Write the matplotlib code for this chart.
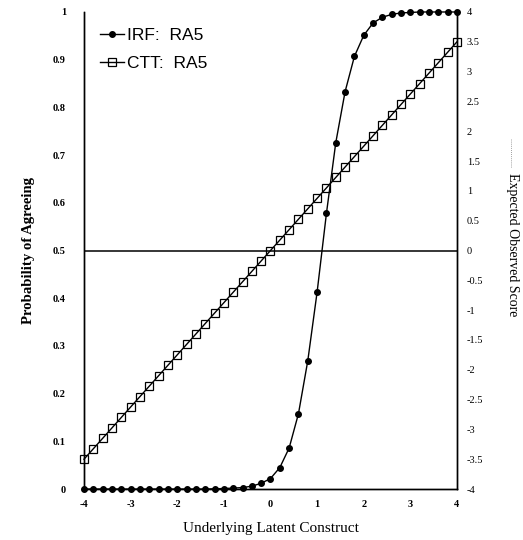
import matplotlib
matplotlib.use("Agg")
import matplotlib.pyplot as plt
from matplotlib.lines import Line2D

# latent construct values (step 0.2)
theta = [-4.0, -3.8, -3.6, -3.4, -3.2, -3.0, -2.8, -2.6, -2.4, -2.2,
         -2.0, -1.8, -1.6, -1.4, -1.2, -1.0, -0.8, -0.6, -0.4, -0.2,
         0.0, 0.2, 0.4, 0.6, 0.8, 1.0, 1.2, 1.4, 1.6, 1.8,
         2.0, 2.2, 2.4, 2.6, 2.8, 3.0, 3.2, 3.4, 3.6, 3.8, 4.0]

# IRF: probability of agreeing (left axis)
irf = [0.0, 0.0, 0.0, 0.0, 0.0, 0.0, 0.0, 0.0, 0.0, 0.0,
       0.0, 0.0, 0.0, 0.0, 0.0005, 0.001, 0.002, 0.003, 0.006, 0.012,
       0.022, 0.045, 0.086, 0.158, 0.269, 0.413, 0.578, 0.726, 0.833, 0.907,
       0.951, 0.977, 0.989, 0.995, 0.998, 0.999, 1.0, 1.0, 1.0, 1.0, 1.0]

# CTT: expected observed score (right axis)
ctt = [-3.5, -3.325, -3.15, -2.975, -2.8, -2.625, -2.45, -2.275, -2.1, -1.925,
       -1.75, -1.575, -1.4, -1.225, -1.05, -0.875, -0.7, -0.525, -0.35, -0.175,
       0.0, 0.175, 0.35, 0.525, 0.7, 0.875, 1.05, 1.225, 1.4, 1.575,
       1.75, 1.925, 2.1, 2.275, 2.45, 2.625, 2.8, 2.975, 3.15, 3.325, 3.5]

left_ticks = [0, 0.1, 0.2, 0.3, 0.4, 0.5, 0.6, 0.7, 0.8, 0.9, 1]
left_labels = ["0", "0.1", "0.2", "0.3", "0.4", "0.5", "0.6", "0.7", "0.8", "0.9", "1"]
right_ticks = [-4, -3.5, -3, -2.5, -2, -1.5, -1, -0.5, 0, 0.5, 1, 1.5, 2, 2.5, 3, 3.5, 4]
right_labels = ["-4", "-3.5", "-3", "-2.5", "-2", "-1.5", "-1", "-0.5", "0",
                "0.5", "1", "1.5", "2", "2.5", "3", "3.5", "4"]
x_ticks = [-4, -3, -2, -1, 0, 1, 2, 3, 4]

serif = "Liberation Serif"

fig = plt.figure(figsize=(5.23, 5.40), dpi=100)
ax = fig.add_axes([0.1606, 0.0944, 0.7132, 0.8834])
ax2 = ax.twinx()

ax.set_xlim(-4, 4)
ax.set_ylim(0, 1)
ax2.set_ylim(-4, 4)

# zero line of the observed score
ax2.axhline(0, color="black", lw=1.1)

l2, = ax2.plot(theta, ctt, color="black", lw=1.0, marker="s", ms=5.5,
               mfc="none", mec="black", mew=0.9, clip_on=False)
l1, = ax.plot(theta, irf, color="black", lw=1.0, marker="o", ms=4.0,
              clip_on=False, zorder=5)
ax.set_zorder(ax2.get_zorder() + 1)
ax.patch.set_visible(False)

for a in (ax, ax2):
    a.spines["top"].set_visible(False)
    for s in a.spines.values():
        s.set_linewidth(1.0)

ax.set_xticks(x_ticks)
ax.set_xticklabels([str(t) for t in x_ticks], fontfamily=serif,
                   fontweight="bold", fontsize=7.5)
ax.set_yticks(left_ticks)
ax.set_yticklabels(left_labels, fontfamily=serif, fontweight="bold", fontsize=7.5)
ax2.set_yticks(right_ticks)
ax2.set_yticklabels(right_labels, fontfamily=serif, fontsize=7.5)
ax.tick_params(axis="x", length=0, pad=8)
ax.tick_params(axis="y", length=0, pad=13)
ax2.tick_params(axis="y", length=0, pad=7)

ax.set_xlabel("Underlying Latent Construct", fontfamily=serif, fontsize=11,
              labelpad=9)
ax.set_ylabel("Probability of Agreeing", fontfamily=serif, fontweight="bold",
              fontsize=10.6, labelpad=13)
fig.text(0.979, 0.546, "Expected Observed Score", fontfamily=serif, fontsize=10,
         rotation=270, ha="center", va="center")
fig.add_artist(Line2D([0.978, 0.978], [0.691, 0.744], color="gray", lw=0.6,
                      ls=(0, (1, 1.5))))

ax.legend([l1, l2], ["IRF:  RA5", "CTT:  RA5"], loc="upper left",
          bbox_to_anchor=(0.0, 1.0), frameon=False, handlelength=1.4,
          handletextpad=0.15, labelspacing=0.75, borderaxespad=0.5,
          prop={"family": "Liberation Sans", "size": 12.5})

fig.savefig("out.png", dpi=100)
